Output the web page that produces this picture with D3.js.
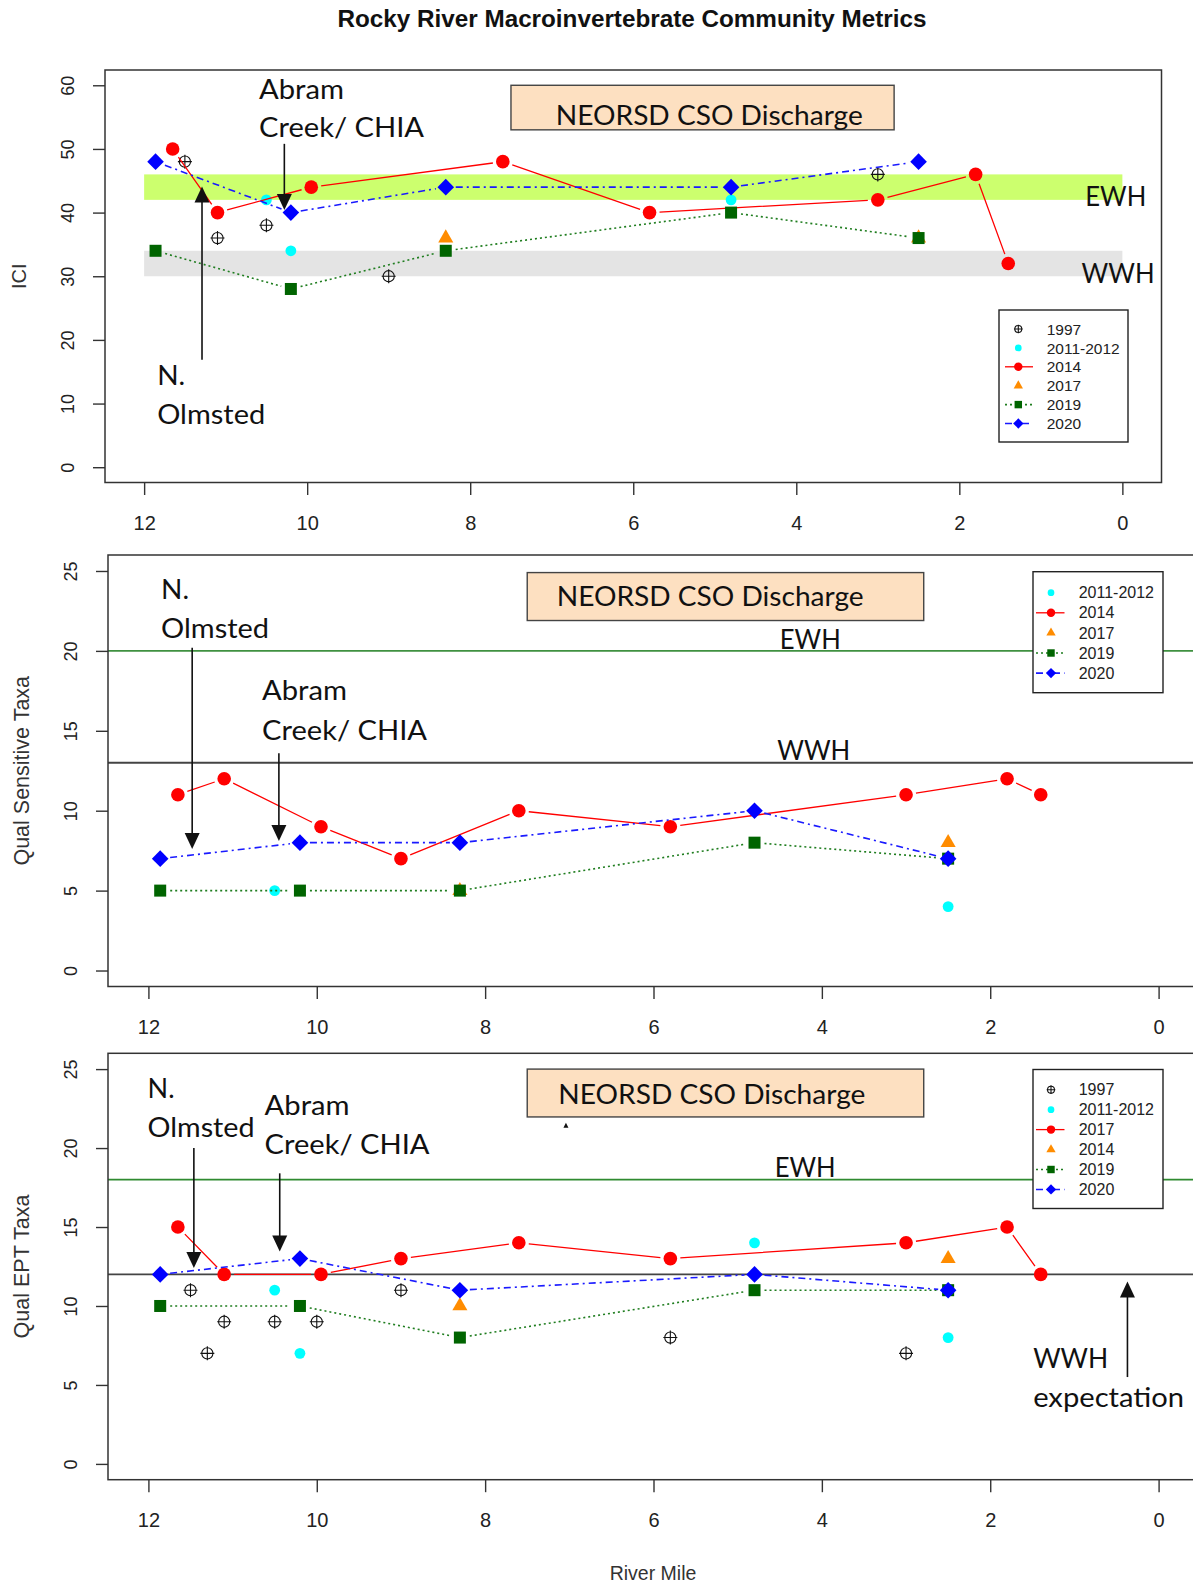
<!DOCTYPE html>
<html>
<head>
<meta charset="utf-8">
<script src="https://cdn.jsdelivr.net/npm/d3@7"></script>
<style>
  body { margin: 0; background: #fff; }
  svg { display: block; }
</style>
</head>
<body>
<svg></svg>
<script>
/* -------------------------
   DATA  ([river mile, value])
--------------------------*/
const xTicks = [12, 10, 8, 6, 4, 2, 0];
const iciTicks = [0, 10, 20, 30, 40, 50, 60];
const taxaTicks = [0, 5, 10, 15, 20, 25];

// ICI
const ici1997 = [[11.5, 48], [11.1, 36], [10.5, 38], [9.0, 30], [3.0, 46]];
const ici2011 = [[10.5, 42], [10.2, 34], [4.8, 42]];
const ici2014 = [[11.65, 50], [11.1, 40], [9.95, 44], [7.6, 48], [5.8, 40], [3.0, 42], [1.8, 46], [1.4, 32]];
const ici2017 = [[8.3, 36], [2.5, 36]];
const ici2019 = [[11.86, 34], [10.2, 28], [8.3, 34], [4.8, 40], [2.5, 36]];
const ici2020 = [[11.86, 48], [10.2, 40], [8.3, 44], [4.8, 44], [2.5, 48]];
const iciEWH = [42, 46];
const iciWWH = [30, 34];

// Qual Sensitive Taxa
const sens2011 = [[10.5, 5], [2.5, 4]];
const sens2014 = [[11.65, 11], [11.1, 12], [9.95, 9], [9.0, 7], [7.6, 10], [5.8, 9], [3.0, 11], [1.8, 12], [1.4, 11]];
const sens2017 = [[8.3, 5], [2.5, 8]];
const sens2019 = [[11.86, 5], [10.2, 5], [8.3, 5], [4.8, 8], [2.5, 7]];
const sens2020 = [[11.86, 7], [10.2, 8], [8.3, 8], [4.8, 10], [2.5, 7]];
const sensEWH = 20;
const sensWWH = 13;

// Qual EPT Taxa (legend of the original swaps 2014/2017)
const ept1997 = [[11.5, 11], [11.3, 7], [11.1, 9], [10.5, 9], [10.0, 9], [9.0, 11], [5.8, 8], [3.0, 7]];
const ept2011 = [[10.5, 11], [10.2, 7], [4.8, 14], [2.5, 8]];
const eptRedLine = [[11.65, 15], [11.1, 12], [9.95, 12], [9.0, 13], [7.6, 14], [5.8, 13], [3.0, 14], [1.8, 15], [1.4, 12]];
const eptTriangle = [[8.3, 10], [2.5, 13]];
const ept2019 = [[11.86, 10], [10.2, 10], [8.3, 8], [4.8, 11], [2.5, 11]];
const ept2020 = [[11.86, 12], [10.2, 13], [8.3, 11], [4.8, 12], [2.5, 11]];
const eptEWH = 18;
const eptWWH = 12;

const legend1Labels = ["1997", "2011-2012", "2014", "2017", "2019", "2020"];
const legend2Labels = ["2011-2012", "2014", "2017", "2019", "2020"];
const legend3Labels = ["1997", "2011-2012", "2017", "2014", "2019", "2020"];

/* -------------------------
   STYLES
--------------------------*/
const STYLE = {
  cross:  { fill: "none",    line: null },
  cyan:   { fill: "#00FFFF", line: null },
  red:    { fill: "#FF0000", line: "#FF0000", lw: 1.3, dash: null },
  orange: { fill: "#FF8C00", line: null },
  green:  { fill: "#006400", line: "#1f7d1f", lw: 1.6, dash: "2,3" },
  blue:   { fill: "#0000FF", line: "#1a1aff", lw: 1.6, dash: "7,4,2,4" }
};
const SANS = "'Liberation Sans', Arial, sans-serif";
const GILL = "Lato, 'Open Sans', sans-serif";

const svg = d3.select("svg").attr("width", 1193).attr("height", 1585);

/* -------------------------
   TITLE
--------------------------*/
svg.append("text")
  .attr("x", 632).attr("y", 27)
  .attr("text-anchor", "middle")
  .attr("textLength", 589).attr("lengthAdjust", "spacingAndGlyphs")
  .style("font-family", SANS).style("font-size", "23px").style("font-weight", "bold")
  .style("fill", "#111")
  .text("Rocky River Macroinvertebrate Community Metrics");

/* -------------------------
   HELPERS
--------------------------*/
function makePanel(box, ylim, yTicks, ytitle, yTickFont) {
  const xPad = 12 * 0.04, yPad = (ylim[1] - ylim[0]) * 0.04;
  const x = d3.scaleLinear().domain([12 + xPad, -xPad]).range([box.left, box.right]);
  const y = d3.scaleLinear().domain([ylim[0] - yPad, ylim[1] + yPad]).range([box.bottom, box.top]);
  const g = svg.append("g");
  const p = { x, y, g, box };

  // x axis
  const xa = g.append("g")
    .attr("transform", `translate(0,${box.bottom})`)
    .call(d3.axisBottom(x).tickValues(xTicks).tickSize(12.5).tickFormat(d3.format("d")));
  xa.select(".domain").remove();
  xa.selectAll("line").attr("stroke", "#333").attr("stroke-width", 1.4);
  xa.selectAll("text").attr("y", 47.5).attr("dy", 0)
    .style("font-family", SANS).style("font-size", "20px").style("fill", "#222");

  // y axis (labels parallel to axis)
  const ya = g.append("g")
    .attr("transform", `translate(${box.left},0)`)
    .call(d3.axisLeft(y).tickValues(yTicks).tickSize(12));
  ya.select(".domain").remove();
  ya.selectAll("line").attr("stroke", "#333").attr("stroke-width", 1.4);
  ya.selectAll("text")
    .attr("transform", "rotate(-90)")
    .attr("x", 0).attr("y", -31).attr("dy", 0)
    .attr("text-anchor", "middle")
    .style("font-family", SANS).style("font-size", yTickFont).style("fill", "#222");

  // y title
  g.append("text")
    .attr("transform", `translate(${box.left - 79},${(box.top + box.bottom) / 2}) rotate(-90)`)
    .attr("text-anchor", "middle")
    .style("font-family", SANS).style("font-size", ytitle[1]).style("fill", "#333")
    .text(ytitle[0]);

  p.layer = g.append("g");
  p.marks = g.append("g");
  p.top = g.append("g");

  // box
  g.append("rect")
    .attr("x", box.left).attr("y", box.top)
    .attr("width", box.right - box.left).attr("height", box.bottom - box.top)
    .attr("fill", "none").attr("stroke", "#333").attr("stroke-width", 1.5);
  return p;
}

function marker(g, kind, cx, cy, s) {
  const st = STYLE[kind];
  if (kind === "cross") {
    g.append("circle").attr("cx", cx).attr("cy", cy).attr("r", 5.6 * s)
      .attr("fill", "none").attr("stroke", "#111").attr("stroke-width", 1.1);
    g.append("path")
      .attr("d", `M${cx - 7 * s},${cy}H${cx + 7 * s}M${cx},${cy - 7 * s}V${cy + 7 * s}`)
      .attr("stroke", "#111").attr("stroke-width", 1.1);
  } else if (kind === "cyan") {
    g.append("circle").attr("cx", cx).attr("cy", cy).attr("r", 5.4 * s).attr("fill", st.fill);
  } else if (kind === "red") {
    g.append("circle").attr("cx", cx).attr("cy", cy).attr("r", 6.8 * s).attr("fill", st.fill);
  } else if (kind === "orange") {
    const r = 8.7 * s;
    g.append("path")
      .attr("d", `M${cx},${cy - r}L${cx + r * 0.866},${cy + r / 2}L${cx - r * 0.866},${cy + r / 2}Z`)
      .attr("fill", st.fill);
  } else if (kind === "green") {
    const h = 6 * s;
    g.append("rect").attr("x", cx - h).attr("y", cy - h).attr("width", 2 * h).attr("height", 2 * h)
      .attr("fill", st.fill);
  } else if (kind === "blue") {
    const r = 8.3 * s;
    g.append("path")
      .attr("d", `M${cx},${cy - r}L${cx + r},${cy}L${cx},${cy + r}L${cx - r},${cy}Z`)
      .attr("fill", st.fill);
  }
}

// R type="b": segments stop short of the points
function series(p, data, kind) {
  const st = STYLE[kind];
  const pts = data.map(d => [p.x(d[0]), p.y(d[1])]);
  if (st.line) {
    const gap = 10;
    let d = "";
    for (let i = 1; i < pts.length; i++) {
      const [x0, y0] = pts[i - 1], [x1, y1] = pts[i];
      const L = Math.hypot(x1 - x0, y1 - y0);
      if (L <= 2 * gap) continue;
      const ux = (x1 - x0) / L, uy = (y1 - y0) / L;
      d += `M${x0 + ux * gap},${y0 + uy * gap}L${x1 - ux * gap},${y1 - uy * gap}`;
    }
    p.marks.append("path").attr("d", d).attr("fill", "none")
      .attr("stroke", st.line).attr("stroke-width", st.lw)
      .attr("stroke-dasharray", st.dash);
  }
  const g = p.marks.append("g");
  pts.forEach(q => marker(g, kind, q[0], q[1], 1));
}

function label(p, str, m, v, width) {
  p.top.append("text")
    .attr("x", p.x(m)).attr("y", p.y(v))
    .attr("textLength", width).attr("lengthAdjust", "spacingAndGlyphs")
    .style("font-family", GILL).style("font-size", "27px").style("fill", "#111")
    .text(str);
}

function arrow(p, m, vFrom, vTo) {
  const x = p.x(m), y0 = p.y(vFrom), y1 = p.y(vTo);
  const dir = y1 > y0 ? 1 : -1;
  p.top.append("line").attr("x1", x).attr("x2", x).attr("y1", y0).attr("y2", y1 - dir * 8)
    .attr("stroke", "#111").attr("stroke-width", 1.6);
  p.top.append("path")
    .attr("d", `M${x},${y1}L${x - 7.5},${y1 - dir * 16}L${x + 7.5},${y1 - dir * 16}Z`)
    .attr("fill", "#111");
}

function cso(p, m0, m1, v0, v1, textM, textV) {
  p.top.append("rect")
    .attr("x", p.x(m0)).attr("y", p.y(v1))
    .attr("width", p.x(m1) - p.x(m0)).attr("height", p.y(v0) - p.y(v1))
    .attr("fill", "#FDE0C1").attr("stroke", "#444").attr("stroke-width", 1.4);
  label(p, "NEORSD CSO Discharge", textM, textV, 307);
}

function hline(p, v, color) {
  p.layer.append("line")
    .attr("x1", p.box.left).attr("x2", p.box.right)
    .attr("y1", p.y(v)).attr("y2", p.y(v))
    .attr("stroke", color).attr("stroke-width", 1.8);
}

function legend(p, rect, labels, kinds, font) {
  const g = p.g.append("g");
  g.append("rect").attr("x", rect.left).attr("y", rect.top)
    .attr("width", rect.w).attr("height", rect.h)
    .attr("fill", "#fff").attr("stroke", "#222").attr("stroke-width", 1.4);
  labels.forEach((lab, i) => {
    const cy = rect.top + rect.first + i * rect.gap;
    const st = STYLE[kinds[i]];
    if (st.line) {
      g.append("line").attr("x1", rect.left + rect.l0).attr("x2", rect.left + rect.l1)
        .attr("y1", cy).attr("y2", cy)
        .attr("stroke", st.line).attr("stroke-width", st.lw).attr("stroke-dasharray", st.dash);
    }
    marker(g, kinds[i], rect.left + rect.sym, cy, 0.62);
    g.append("text").attr("x", rect.left + rect.tx).attr("y", cy + 5.6)
      .style("font-family", SANS).style("font-size", font).style("fill", "#222")
      .text(lab);
  });
}

/* -------------------------
   PANEL 1 : ICI
--------------------------*/
const p1 = makePanel({ left: 105, right: 1161.5, top: 70, bottom: 482.5 }, [0, 60], iciTicks, ["ICI", "20px"], "18px");

[[iciEWH, "#CCFF6E"], [iciWWH, "#E4E4E4"]].forEach(([band, color]) => {
  p1.layer.append("rect")
    .attr("x", p1.x(12)).attr("y", p1.y(band[1]))
    .attr("width", p1.x(0) - p1.x(12)).attr("height", p1.y(band[0]) - p1.y(band[1]))
    .attr("fill", color);
});

series(p1, ici1997, "cross");
series(p1, ici2011, "cyan");
series(p1, ici2014, "red");
series(p1, ici2017, "orange");
series(p1, ici2019, "green");
series(p1, ici2020, "blue");

cso(p1, 7.5, 2.8, 53, 60, 6.95, 53.7);
label(p1, "Abram", 10.59, 57.9, 85);
label(p1, "Creek/ CHIA", 10.59, 51.9, 165);
arrow(p1, 10.28, 50.8, 40.4);
label(p1, "N.", 11.84, 12.9, 28);
label(p1, "Olmsted", 11.84, 6.8, 108);
arrow(p1, 11.29, 16.9, 44.1);
label(p1, "EWH", 0.455, 41.1, 61);
label(p1, "WWH", 0.5, 29.0, 73);

legend(p1, { left: 999, top: 310, w: 129, h: 132, first: 19, gap: 18.9, sym: 19.3, l0: 6, l1: 34, tx: 47.7 },
  legend1Labels, ["cross", "cyan", "red", "orange", "green", "blue"], "15.5px");

/* -------------------------
   PANEL 2 : QUAL SENSITIVE TAXA
--------------------------*/
const p2 = makePanel({ left: 108, right: 1199, top: 555, bottom: 986.5 }, [0, 25], taxaTicks, ["Qual Sensitive Taxa", "21.5px"], "18px");

hline(p2, sensEWH, "#3f9140");
hline(p2, sensWWH, "#444");

series(p2, sens2011, "cyan");
series(p2, sens2014, "red");
series(p2, sens2017, "orange");
series(p2, sens2019, "green");
series(p2, sens2020, "blue");

cso(p2, 7.5, 2.79, 21.9, 24.9, 7.15, 22.8);
label(p2, "N.", 11.85, 23.25, 28);
label(p2, "Olmsted", 11.85, 20.8, 108);
arrow(p2, 11.48, 20.2, 7.6);
label(p2, "Abram", 10.65, 16.9, 85);
label(p2, "Creek/ CHIA", 10.65, 14.45, 165);
arrow(p2, 10.45, 13.6, 8.1);
label(p2, "EWH", 4.5, 20.1, 61);
label(p2, "WWH", 4.53, 13.15, 73);

legend(p2, { left: 1033, top: 571.7, w: 130, h: 121, first: 21, gap: 20.1, sym: 18, l0: 3, l1: 31.5, tx: 45.7 },
  legend2Labels, ["cyan", "red", "orange", "green", "blue"], "16px");

/* -------------------------
   PANEL 3 : QUAL EPT TAXA
--------------------------*/
const p3 = makePanel({ left: 108, right: 1199, top: 1053.3, bottom: 1479.7 }, [0, 25], taxaTicks, ["Qual EPT Taxa", "21.5px"], "18px");

hline(p3, eptEWH, "#2f8a30");
hline(p3, eptWWH, "#444");

series(p3, ept1997, "cross");
series(p3, ept2011, "cyan");
series(p3, eptRedLine, "red");
series(p3, eptTriangle, "orange");
series(p3, ept2019, "green");
series(p3, ept2020, "blue");

cso(p3, 7.5, 2.79, 21.97, 25.0, 7.13, 22.8);
label(p3, "N.", 12.01, 23.2, 27);
label(p3, "Olmsted", 12.01, 20.7, 107);
arrow(p3, 11.46, 20.0, 12.4);
label(p3, "Abram", 10.62, 22.1, 85);
label(p3, "Creek/ CHIA", 10.62, 19.6, 165);
arrow(p3, 10.44, 18.4, 13.45);
label(p3, "EWH", 4.56, 18.15, 61);
label(p3, "WWH", 1.49, 6.07, 75);
label(p3, "expectation", 1.49, 3.58, 151);
arrow(p3, 0.37, 5.5, 11.55);
// stray arrowhead left under the CSO box
p3.top.append("path")
  .attr("d", `M${p3.x(7.04)},${p3.y(21.6)}l2.5,5h-5Z`).attr("fill", "#111");

legend(p3, { left: 1033, top: 1069.5, w: 130, h: 139, first: 20.2, gap: 19.95, sym: 18, l0: 3, l1: 31.5, tx: 45.7 },
  legend3Labels, ["cross", "cyan", "red", "orange", "green", "blue"], "16px");

/* x title */
svg.append("text")
  .attr("x", 653).attr("y", 1580)
  .attr("text-anchor", "middle")
  .style("font-family", SANS).style("font-size", "19.5px").style("fill", "#333")
  .text("River Mile");
</script>
</body>
</html>
